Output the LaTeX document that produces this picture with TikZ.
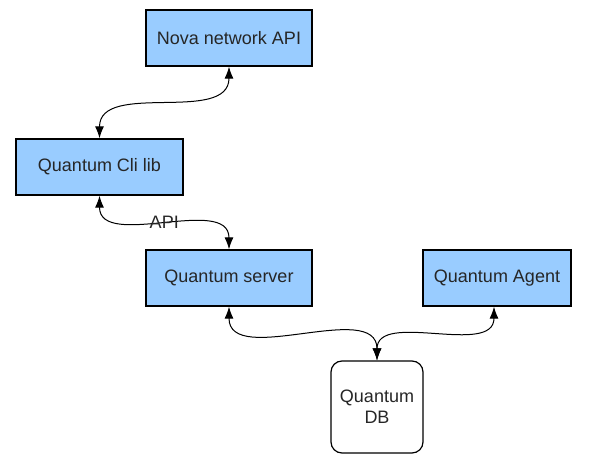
\documentclass[tikz,border=0pt]{standalone}
\usepackage{fontspec}
\setmainfont{Liberation Sans}
\usetikzlibrary{arrows.meta}
\definecolor{boxblue}{HTML}{99CCFF}
\begin{document}
\begin{tikzpicture}[
    x=1pt, y=1pt,
    box/.style={
        draw, rectangle, line width=1.3pt, fill=boxblue,
        minimum width=166pt, minimum height=56pt,
        font=\fontsize{18}{21}\selectfont, text=black!85, align=center
    },
    dbbox/.style={
        draw, rectangle, rounded corners=11pt, line width=1.2pt,
        minimum width=92pt, minimum height=92pt,
        font=\fontsize{18}{21}\selectfont, text=black!85, align=center
    },
    link/.style={{Latex[length=12pt,width=9pt]}-{Latex[length=12pt,width=9pt]}, line width=1pt}
]
    \useasboundingbox (0,0) rectangle (589,-468);

    % Boxes
    \node[box] (nova) at (229,-38) {Nova network API};
    \node[box, minimum width=167pt] (cli) at (99.5,-167) {Quantum Cli lib};
    \node[box] (server) at (229,-278) {Quantum server};
    \node[box, minimum width=148pt] (agent) at (497,-278) {Quantum Agent};
    \node[dbbox] (db) at (377,-407) {Quantum\\DB};

    % Links
    \draw[link] (cli.north) to[out=90, in=-90] (nova.south);
    \draw[link] (cli.south) to[out=-90, in=90]
        node[font=\fontsize{18}{21}\selectfont, text=black!85] (api) {API} (server.north);
    \draw[link] (server.south) to[out=-90, in=90] (db.north);
    \draw[link] ([xshift=-3pt]agent.south) to[out=-90, in=90] (db.north);
\end{tikzpicture}
\end{document}
